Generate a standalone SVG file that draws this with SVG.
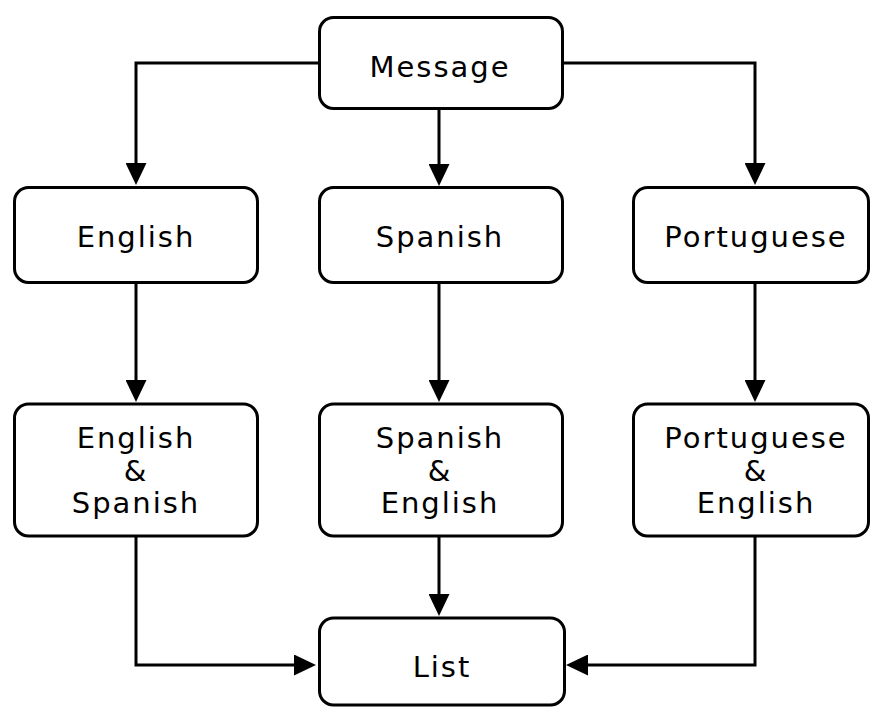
<svg xmlns="http://www.w3.org/2000/svg" width="872" height="709" viewBox="0 0 872 709">
<style>
.box{fill:#fff;stroke:#000;stroke-width:3}
.lbl{font-family:"DejaVu Sans","Verdana",sans-serif;font-size:29px;letter-spacing:2px;fill:#000;text-anchor:middle}
.conn path{fill:none;stroke:#000;stroke-width:3;marker-end:url(#ah)}
</style>
<defs>
<marker id="ah" markerUnits="userSpaceOnUse" viewBox="0 0 22 21" refX="12" refY="10.5" markerWidth="22" markerHeight="21" orient="auto">
<path d="M0,0 L22,10.5 L0,21 z" fill="#000"/>
</marker>
</defs>
<rect width="872" height="709" fill="#fff"/>
<g class="conn" id="connectors">
<path d="M318,63 H136 V175"/>
<path d="M439,109 V176"/>
<path d="M563,63 H755 V175"/>
<path d="M136,283 V392"/>
<path d="M439,283 V392"/>
<path d="M755,283 V392"/>
<path d="M136,537 V665 H306"/>
<path d="M439,537 V606"/>
<path d="M755,537 V665 H576"/>
</g>
<g id="message"><rect class="box" x="319.5" y="17.5" width="243" height="91" rx="14"/><text class="lbl" x="440" y="77">Message</text></g>
<g id="english"><rect class="box" x="14.5" y="187.5" width="243" height="95" rx="14"/><text class="lbl" x="136" y="247">English</text></g>
<g id="spanish"><rect class="box" x="319.5" y="187.5" width="243" height="95" rx="14"/><text class="lbl" x="440" y="247">Spanish</text></g>
<g id="portuguese"><rect class="box" x="633.5" y="187.5" width="235" height="95" rx="14"/><text class="lbl" x="756" y="247">Portuguese</text></g>
<g id="english-spanish"><rect class="box" x="14.5" y="404" width="243" height="132" rx="14"/><text class="lbl" x="136" y="448">English</text><text class="lbl" x="136" y="481">&amp;</text><text class="lbl" x="136" y="513">Spanish</text></g>
<g id="spanish-english"><rect class="box" x="319.5" y="404" width="243" height="132" rx="14"/><text class="lbl" x="440" y="448">Spanish</text><text class="lbl" x="440" y="481">&amp;</text><text class="lbl" x="440" y="513">English</text></g>
<g id="portuguese-english"><rect class="box" x="633.5" y="404" width="235" height="132" rx="14"/><text class="lbl" x="756" y="448">Portuguese</text><text class="lbl" x="756" y="481">&amp;</text><text class="lbl" x="756" y="513">English</text></g>
<g id="list"><rect class="box" x="319.5" y="618" width="245" height="87" rx="14"/><text class="lbl" x="442" y="677">List</text></g>
</svg>
